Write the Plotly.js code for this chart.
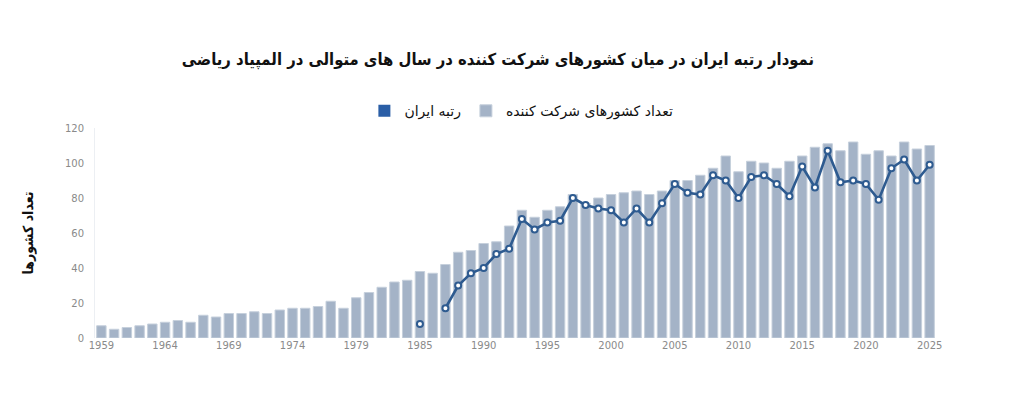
<!DOCTYPE html>
<html>
<head>
<meta charset="utf-8">
<script src="https://cdn.plot.ly/plotly-3.0.1.min.js"></script>
<style>
  html, body { margin: 0; padding: 0; background: #fff; }
  #chart { width: 1031px; height: 406px; }
</style>
</head>
<body>
<div id="chart"></div>
<script>
// IMO: number of participating countries per year (no contest in 1980)
const years = [
  1959, 1960, 1961, 1962, 1963, 1964, 1965, 1966, 1967, 1968,
  1969, 1970, 1971, 1972, 1973, 1974, 1975, 1976, 1977, 1978,
  1979, 1981, 1982, 1983, 1984, 1985, 1986, 1987, 1988, 1989,
  1990, 1991, 1992, 1993, 1994, 1995, 1996, 1997, 1998, 1999,
  2000, 2001, 2002, 2003, 2004, 2005, 2006, 2007, 2008, 2009,
  2010, 2011, 2012, 2013, 2014, 2015, 2016, 2017, 2018, 2019,
  2020, 2021, 2022, 2023, 2024, 2025
];

const countries = [
  7, 5, 6, 7, 8, 9, 10, 9, 13, 12,
  14, 14, 15, 14, 16, 17, 17, 18, 21, 17,
  23, 26, 29, 32, 33, 38, 37, 42, 49, 50,
  54, 55, 64, 73, 69, 73, 75, 82, 77, 80,
  82, 83, 84, 82, 84, 90, 90, 93, 97, 104,
  95, 101, 100, 97, 101, 104, 109, 111, 107, 112,
  105, 107, 104, 112, 108, 110
];

// Iran series, from its first contest (1985); no entry in 1986
const iranYears = [
  1985, 1986, 1987, 1988, 1989, 1990, 1991, 1992, 1993, 1994,
  1995, 1996, 1997, 1998, 1999, 2000, 2001, 2002, 2003, 2004,
  2005, 2006, 2007, 2008, 2009, 2010, 2011, 2012, 2013, 2014,
  2015, 2016, 2017, 2018, 2019, 2020, 2021, 2022, 2023, 2024,
  2025
];

const iranValues = [
  8, null, 17, 30, 37, 40, 48, 51, 68, 62,
  66, 67, 80, 76, 74, 73, 66, 74, 66, 77,
  88, 83, 82, 93, 90, 80, 92, 93, 88, 81,
  98, 86, 107, 89, 90, 88, 79, 97, 102, 90,
  99
];

const yTicks = [0, 20, 40, 60, 80, 100, 120];
const xTickYears = years.filter((_, i) => i % 5 === 0);

const FONT = 'DejaVu Sans, sans-serif';
const TITLE_FONT = 'DejaVu Sans Condensed, DejaVu Sans, sans-serif';
const BAR_COLOR = '#a4b3c7';
const LINE_COLOR = '#2e5b90';

const traces = [
  // legend entry only (square swatch like the reference)
  {
    type: 'bar', x: [null], y: [null],
    name: 'رتبه ایران',
    marker: { color: '#2a5ea6' },
    hoverinfo: 'skip',
  },
  {
    type: 'bar',
    x: years.map(String),
    y: countries,
    name: 'تعداد کشورهای شرکت کننده',
    marker: { color: BAR_COLOR, line: { color: '#c6d0dc', width: 1 } },
    hovertemplate: '%{x}: %{y}<extra></extra>',
  },
  {
    type: 'scatter',
    mode: 'lines+markers',
    x: iranYears.map(String),
    y: iranValues,
    name: 'رتبه ایران',
    showlegend: false,
    connectgaps: false,
    line: { color: LINE_COLOR, width: 2.6 },
    marker: { symbol: 'circle', size: 6, color: '#ffffff', line: { color: LINE_COLOR, width: 2 } },
    hovertemplate: '%{x}: %{y}<extra></extra>',
  },
];

const layout = {
  width: 1031,
  height: 406,
  paper_bgcolor: '#ffffff',
  plot_bgcolor: '#ffffff',
  font: { family: FONT, color: '#222', size: 12 },
  title: {
    text: '<b>نمودار رتبه ایران در میان کشورهای شرکت کننده در سال های متوالی در المپیاد ریاضی</b>',
    font: { family: TITLE_FONT, size: 16.5, color: '#111' },
    x: 0.483, xanchor: 'center',
    y: 0.855, yanchor: 'middle',
  },
  barmode: 'overlay',
  bargap: 0.26,
  showlegend: true,
  legend: {
    orientation: 'h',
    x: 0.507, xanchor: 'center',
    y: 1.08, yanchor: 'middle',
    font: { family: FONT, size: 14, color: '#111' },
    traceorder: 'normal',
  },
  xaxis: {
    type: 'category',
    categoryorder: 'array',
    categoryarray: years.map(String),
    range: [-0.5, years.length - 0.5],
    autorange: false,
    tickmode: 'array',
    tickvals: xTickYears.map(String),
    ticktext: xTickYears.map(String),
    tickangle: 0,
    tickfont: { size: 10, color: '#8a8a8a' },
    showgrid: false,
    showline: false,
    zeroline: false,
    ticks: '',
  },
  yaxis: {
    range: [0, 120],
    tickvals: yTicks,
    tickfont: { size: 10, color: '#8a8a8a' },
    showgrid: false,
    zeroline: false,
    showline: true,
    linecolor: '#eceff3',
    linewidth: 1,
    ticks: '',
    ticklabelstandoff: 8,
    title: {
      text: '<b>تعداد کشورها</b>',
      font: { family: TITLE_FONT, size: 14, color: '#111' },
      standoff: 28,
    },
  },
  margin: { l: 95, r: 95, t: 128, b: 68 },
};

Plotly.newPlot('chart', traces, layout, { displayModeBar: false, staticPlot: true });
</script>
</body>
</html>
